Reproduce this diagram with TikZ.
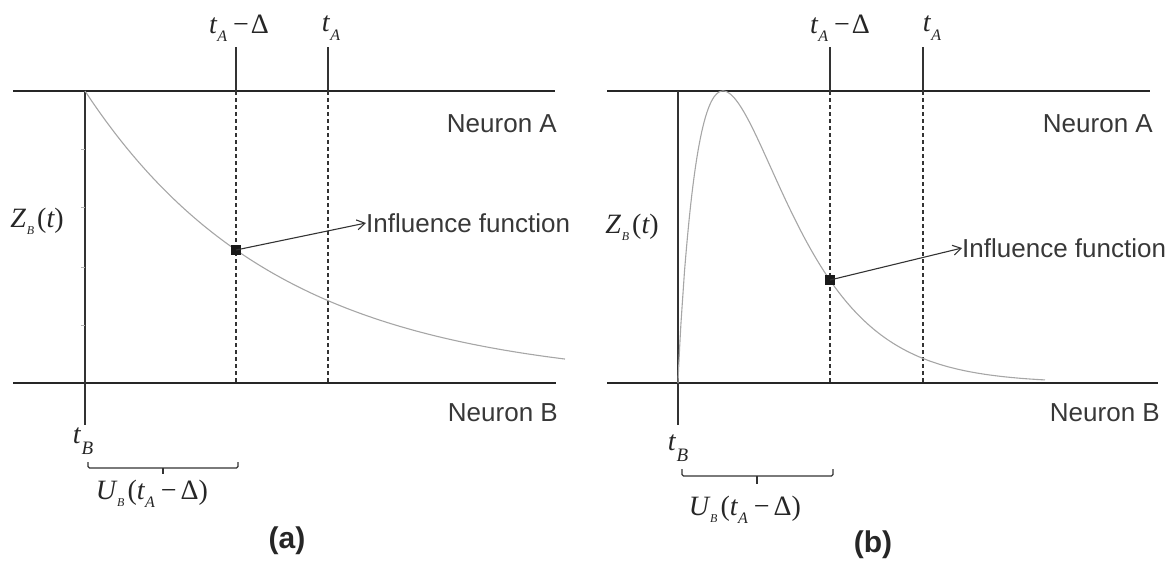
\documentclass[tikz,border=0pt]{standalone}
\usepackage{fontspec}
\setmainfont{Liberation Serif}
\newfontfamily\sansf{Liberation Sans}
\usetikzlibrary{arrows.meta}
\newcommand{\msub}[1]{\raisebox{-0.3em}{\fontsize{16}{16}\selectfont\itshape #1}}
\newcommand{\tsub}[1]{\raisebox{-0.26em}{\fontsize{12}{12}\selectfont\itshape #1}}
\newcommand{\labtad}{{\itshape t}\kern0.5pt\msub{A}\kern6pt−\kern2ptΔ}
\newcommand{\labta}{{\itshape t}\kern0.5pt\msub{A}}
\newcommand{\labz}{{\itshape Z}\kern1pt\tsub{B}\kern3pt({\itshape t})}
\newcommand{\labu}{{\itshape U}\kern1pt\tsub{B}\kern3pt({\itshape t}\kern0.5pt\msub{A}\kern6pt−\kern4ptΔ)}
\newcommand{\labtb}{{\itshape t}\kern1pt\raisebox{-0.4em}{\fontsize{19}{19}\selectfont\itshape B}}
\begin{document}
\begin{tikzpicture}[x=1pt,y=-1pt,
  axisline/.style={line width=1.8pt,draw=black!85},
  vline/.style={line width=1.1pt,draw=black!80},
  dline/.style={line width=1.1pt,draw=black!80,dash pattern=on 4pt off 3pt},
  curveline/.style={line width=1.1pt,draw=black!35},
  smalltick/.style={line width=0.8pt,draw=black!30},
  sq/.style={fill=black!90,draw=none,minimum size=10pt,inner sep=0pt},
  sanstxt/.style={font=\sansf\fontsize{26}{30}\selectfont,text=black!78,inner sep=0pt},
  mlab/.style={font=\fontsize{28}{32}\selectfont,text=black!85,inner sep=0pt},
  ptr/.style={line width=1.1pt,draw=black!80,-{Straight Barb[length=8pt,width=10pt]}},
  captxt/.style={font=\sansf\bfseries\fontsize{30}{34}\selectfont,text=black!85,inner sep=0pt},
  brc/.style={line width=1.3pt,draw=black!80,rounded corners=1.5pt}]
\useasboundingbox (0,0) rectangle (1172,563);

% ---------------- panel (a) ----------------
\coordinate (aTL) at (13,91);  \coordinate (aTR) at (555,91);
\coordinate (aBL) at (13,383); \coordinate (aBR) at (556,383);
\draw[axisline] (aTL) -- (aTR);
\draw[axisline] (aBL) -- (aBR);
\coordinate (aV1) at (85,91); \coordinate (aV2) at (85,425);
\draw[vline] (aV1) -- (aV2);
\foreach \yy in {149,207,267,325} \draw[smalltick] (81,\yy) -- (85,\yy);
\coordinate (aD1t) at (236,47); \coordinate (aD1m) at (236,91); \coordinate (aD1b) at (236,383);
\coordinate (aD2t) at (328,47); \coordinate (aD2m) at (328,91); \coordinate (aD2b) at (328,383);
\draw[vline] (aD1t) -- (aD1m);
\draw[vline] (aD2t) -- (aD2m);
\draw[dline] (aD1m) -- (aD1b);
\draw[dline] (aD2m) -- (aD2b);
\draw[curveline] plot[domain=85:565,samples=120] (\x,{383-292*exp(-(\x-85)/192)});
\node[sq] (asq) at (236,250) {};
\node[sanstxt,anchor=west] (ainf) at (366,223) {Influence function};
\draw[ptr] (asq.center) -- (ainf.west);
\node[mlab] (atad) at (239,28) {\labtad};
\node[mlab] (ata) at (331,28) {\labta};
\node[mlab] (az) at (37,221) {\labz};
\node[sanstxt,anchor=east] (ana) at (557,124) {Neuron A};
\node[sanstxt,anchor=east] (anb) at (558,413) {Neuron B};
\node[mlab] (atb) at (83,441) {\labtb};
\coordinate (abrL) at (88,462); \coordinate (abrR) at (238,462);
\draw[brc] (abrL) |- (163,468) -| (abrR);
\draw[brc] (163,468) -- (163,474);
\node[mlab] (au) at (152,494) {\labu};
\node[captxt] (acap) at (287,541) {(a)};

% ---------------- panel (b) ----------------
\coordinate (bTL) at (607,91);  \coordinate (bTR) at (1150,91);
\coordinate (bBL) at (607,383); \coordinate (bBR) at (1158,383);
\draw[axisline] (bTL) -- (bTR);
\draw[axisline] (bBL) -- (bBR);
\coordinate (bV1) at (678,91); \coordinate (bV2) at (678,425);
\draw[vline] (bV1) -- (bV2);
\coordinate (bD1t) at (830,47); \coordinate (bD1m) at (830,91); \coordinate (bD1b) at (830,383);
\coordinate (bD2t) at (923,47); \coordinate (bD2m) at (923,91); \coordinate (bD2b) at (923,383);
\draw[vline] (bD1t) -- (bD1m);
\draw[vline] (bD2t) -- (bD2m);
\draw[dline] (bD1m) -- (bD1b);
\draw[dline] (bD2m) -- (bD2b);
\draw[curveline] (678,383) -- plot[domain=678.4:1045,samples=300] (\x,{383-292*exp(0.9*(ln((\x-678)/45)+1-(\x-678)/45))});
\node[sq] (bsq) at (830,280) {};
\node[sanstxt,anchor=west] (binf) at (962,248) {Influence function};
\draw[ptr] (bsq.center) -- (binf.west);
\node[mlab] (btad) at (840,28) {\labtad};
\node[mlab] (bta) at (932,28) {\labta};
\node[mlab] (bz) at (632,227) {\labz};
\node[sanstxt,anchor=east] (bna) at (1153,124) {Neuron A};
\node[sanstxt,anchor=east] (bnb) at (1160,413) {Neuron B};
\node[mlab] (btb) at (678,448) {\labtb};
\coordinate (bbrL) at (682,469); \coordinate (bbrR) at (833,469);
\draw[brc] (bbrL) |- (757,476) -| (bbrR);
\draw[brc] (757,476) -- (757,484);
\node[mlab] (bu) at (745,510) {\labu};
\node[captxt] (bcap) at (873,545) {(b)};
\end{tikzpicture}
\end{document}
